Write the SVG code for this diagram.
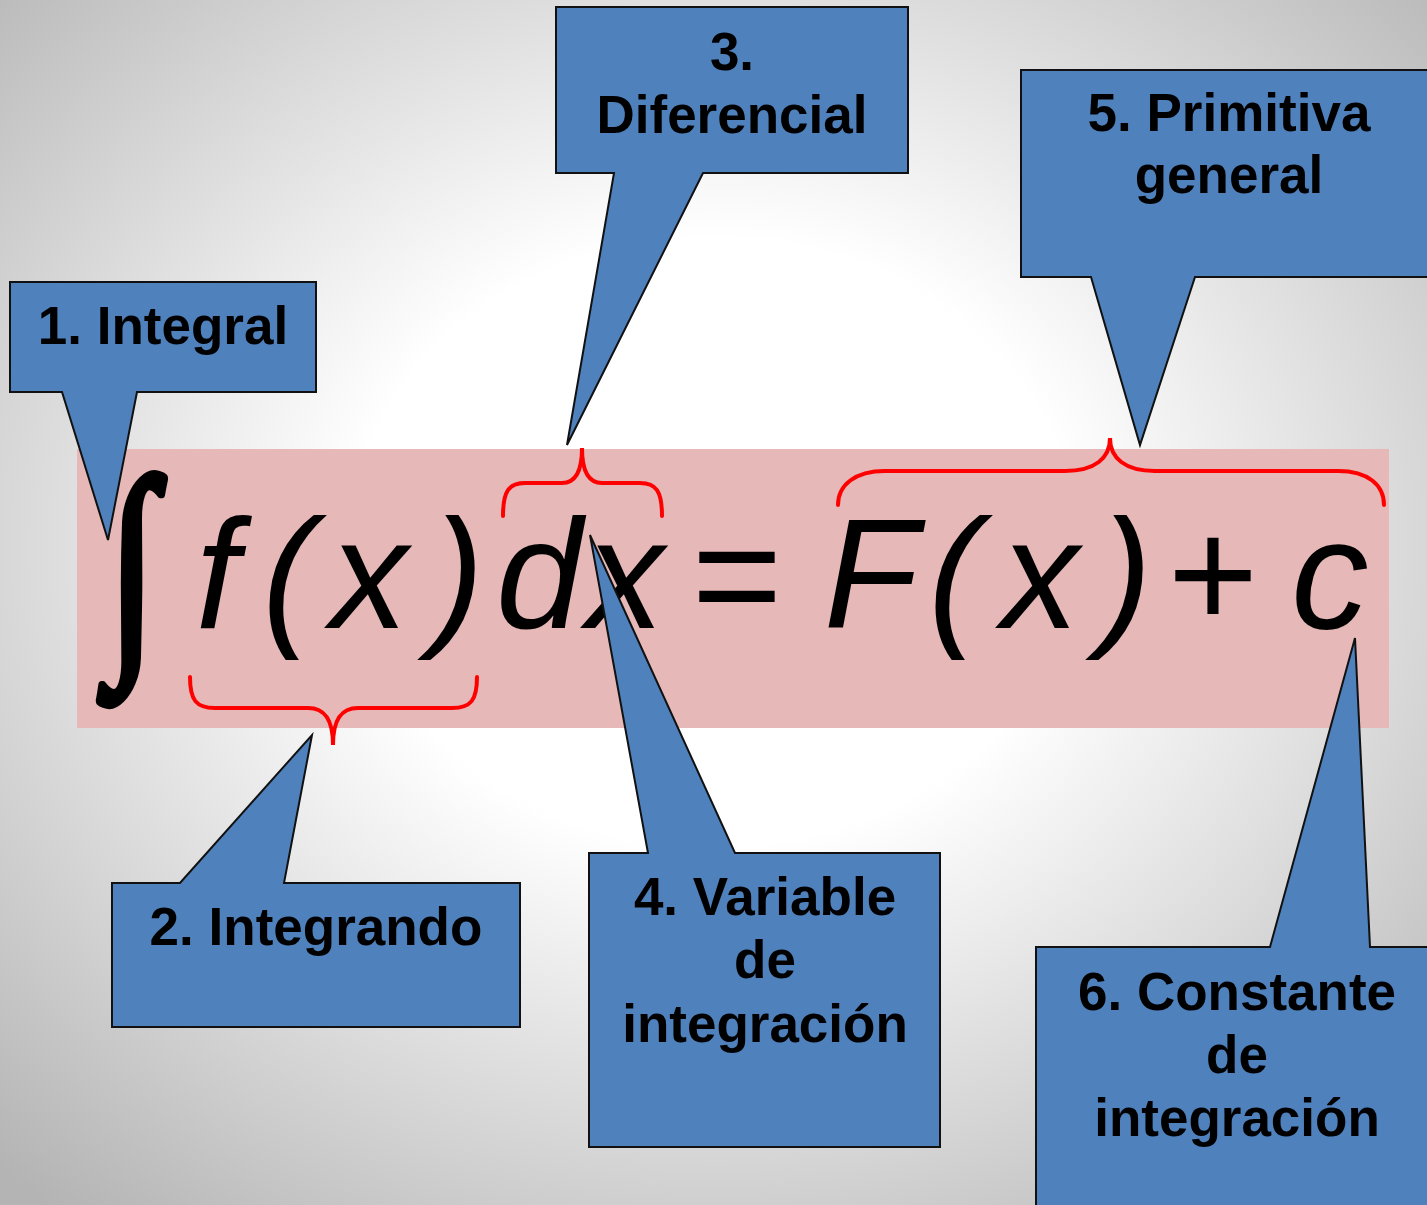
<svg xmlns="http://www.w3.org/2000/svg" width="1427" height="1205" viewBox="0 0 1427 1205">
<defs>
<radialGradient id="bg" cx="0.5" cy="0.45" r="0.72">
<stop offset="0.35" stop-color="#ffffff"/>
<stop offset="1" stop-color="#b4b4b4"/>
</radialGradient>
<style>
.call{fill:#4F81BD;stroke:#111;stroke-width:2;stroke-linejoin:miter}
.lbl{font-family:"Liberation Sans",Arial,sans-serif;font-weight:bold;font-size:53px;fill:#000;text-anchor:middle}
.m{font-family:"Liberation Sans",Arial,sans-serif;font-style:italic;font-size:155px;fill:#000;text-anchor:middle}
.u{font-style:normal}
.brace{fill:none;stroke:#FF0000;stroke-width:4;stroke-linecap:round}
</style>
</defs>
<rect x="0" y="0" width="1427" height="1205" fill="url(#bg)"/>
<rect x="77" y="449" width="1312" height="279" fill="#E6B8B7"/>
<g id="formula">
<text x="130" y="665" transform="translate(132.5,590) scale(0.7,0.94) translate(-130.5,-610)" style="font-family:'Liberation Serif',serif;font-size:250px;text-anchor:middle;stroke:#000;stroke-width:9;stroke-linejoin:round">∫</text>
<text class="m" x="217" y="628">f</text>
<text class="m" x="288" y="628">(</text>
<text class="m" x="369" y="628">x</text>
<text class="m" x="458" y="628">)</text>
<text class="m" x="539" y="628">d</text>
<text class="m" x="625" y="628">x</text>
<text class="m u" x="737" y="628">=</text>
<text class="m" x="871" y="628">F</text>
<text class="m" x="954" y="628">(</text>
<text class="m" x="1040" y="628">x</text>
<text class="m" x="1126" y="628">)</text>
<text class="m u" x="1213" y="628">+</text>
<text class="m" x="1330" y="628">c</text>
</g>
<g id="connectors">
<path class="brace" d="M190,677 C190,700 196,708 215,708 L308,708 C325,708 333,720 333,745 C333,720 341,708 358,708 L452,708 C471,708 477,700 477,677"/>
<path class="brace" d="M503,516 C503,491 509,483 525,483 L562,483 C576,483 582,470 582,448 C582,470 588,483 602,483 L640,483 C656,483 662,491 662,516"/>
<path class="brace" d="M838,505 C838,485 855,471 885,471 L1065,471 C1095,471 1110,458 1110,438 C1110,458 1125,471 1155,471 L1338,471 C1368,471 1384,485 1384,505"/>
</g>
<g id="n1">
<path class="call" d="M10,282 H316 V392 H137 L108,540 L62,392 H10 Z"/>
<text class="lbl" x="163" y="344">1. Integral</text>
</g>
<g id="n2">
<path class="call" d="M112,883 H180 L312,735 L284,883 H520 V1027 H112 Z"/>
<text class="lbl" x="316" y="945">2. Integrando</text>
</g>
<g id="n3">
<path class="call" d="M556,7 H908 V173 H703 L567,445 L614,173 H556 Z"/>
<text class="lbl" x="732" y="70">3.</text>
<text class="lbl" x="732" y="133">Diferencial</text>
</g>
<g id="n4">
<path class="call" d="M589,853 H648 L590,535 L735,853 H940 V1147 H589 Z"/>
<text class="lbl" x="765" y="915">4. Variable</text>
<text class="lbl" x="765" y="978">de</text>
<text class="lbl" x="765" y="1042">integración</text>
</g>
<g id="n5">
<path class="call" d="M1021,70 H1437 V277 H1195 L1140,445 L1091,277 H1021 Z"/>
<text class="lbl" x="1229" y="131">5. Primitiva</text>
<text class="lbl" x="1229" y="193">general</text>
</g>
<g id="n6">
<path class="call" d="M1036,947 H1270 L1355,638 L1370,947 H1437 V1215 H1036 Z"/>
<text class="lbl" x="1237" y="1010">6. Constante</text>
<text class="lbl" x="1237" y="1073">de</text>
<text class="lbl" x="1237" y="1136">integración</text>
</g>
</svg>
